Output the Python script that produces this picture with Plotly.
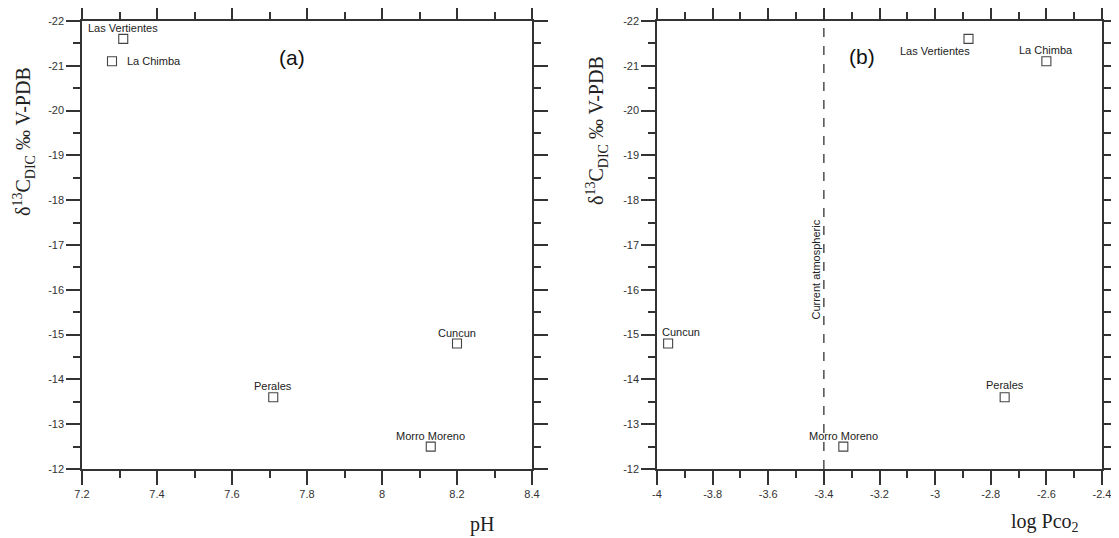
import plotly.graph_objects as go

# ---- data ----
sites = ["Las Vertientes", "La Chimba", "Cuncun", "Perales", "Morro Moreno"]
ph = [7.31, 7.28, 8.20, 7.71, 8.13]
log_pco2 = [-2.88, -2.60, -3.96, -2.75, -3.33]
d13c_dic = [-21.6, -21.1, -14.8, -13.6, -12.5]
atm_log_pco2 = -3.4

ph_ticks = [7.2, 7.4, 7.6, 7.8, 8.0, 8.2, 8.4]
ph_ticktext = ["7.2", "7.4", "7.6", "7.8", "8", "8.2", "8.4"]
pco2_ticks = [-4.0, -3.8, -3.6, -3.4, -3.2, -3.0, -2.8, -2.6, -2.4]
pco2_ticktext = ["-4", "-3.8", "-3.6", "-3.4", "-3.2", "-3", "-2.8", "-2.6", "-2.4"]
d13c_ticks = [-22, -21, -20, -19, -18, -17, -16, -15, -14, -13, -12]
d13c_ticktext = ["-22", "-21", "-20", "-19", "-18", "-17", "-16", "-15", "-14", "-13", "-12"]

# ---- styles ----
OFF = 8                      # page body margin of the browser
W, H = 1119 - OFF, 538 - OFF


def px(x):
    return (x - OFF) / W


def py(y):
    return 1 - (y - OFF) / H


# label placement (anchor, xshift, yshift) per site, for each panel
label_style_a = [("center", 0, 11), ("left", 13, 0), ("center", 0, 11), ("center", 0, 11), ("center", 0, 11)]
label_style_b = [("right", 3, -12), ("center", 0, 11), ("center", 13, 12), ("center", 0, 12), ("center", 0, 11)]
SANS = "Liberation Sans, Arial, sans-serif"
SERIF = "Liberation Serif, Times New Roman, serif"
AX = "#333333"

marker = dict(symbol="square-open", size=9, color="#444444", line=dict(width=1.1, color="#444444"))
labelfont = dict(family=SANS, size=11, color="#222222")

fig = go.Figure()
fig.add_trace(go.Scatter(x=ph, y=d13c_dic, mode="markers", marker=marker, text=sites,
                         xaxis="x", yaxis="y", showlegend=False, cliponaxis=False))
fig.add_trace(go.Scatter(x=log_pco2, y=d13c_dic, mode="markers", marker=marker, text=sites,
                         xaxis="x2", yaxis="y2", showlegend=False, cliponaxis=False))

for xs, styles, xr, yr in [(ph, label_style_a, "x", "y"), (log_pco2, label_style_b, "x2", "y2")]:
    for name, xv, yv, (anc, dx, dy) in zip(sites, xs, d13c_dic, styles):
        fig.add_annotation(x=xv, y=yv, xref=xr, yref=yr, text=name, showarrow=False,
                           xanchor=anc, yanchor="middle", xshift=dx, yshift=dy, font=labelfont)


def axis_style(domain, rng, tv, tt, dtick_minor, anchor):
    return dict(domain=domain, range=rng, tickmode="array", tickvals=tv, ticktext=tt,
                ticks="outside", ticklen=14, tickwidth=1.5, tickcolor=AX,
                minor=dict(ticks="outside", ticklen=7, tickwidth=1.5, tickcolor=AX,
                           dtick=dtick_minor, showgrid=False),
                showline=True, linecolor=AX, linewidth=1.5, mirror="ticks",
                showgrid=False, zeroline=False, anchor=anchor, automargin=False,
                tickfont=dict(family=SANS, size=11, color=AX))


ydom = [py(469), py(21)]
fig.update_layout(
    width=W, height=H,
    margin=dict(l=0, r=0, t=0, b=0, pad=0),
    paper_bgcolor="white", plot_bgcolor="white",
    xaxis=axis_style([px(82), px(532)], [7.2, 8.4], ph_ticks, ph_ticktext, 0.1, "y"),
    yaxis=axis_style(ydom, [-12, -22], d13c_ticks, d13c_ticktext, 0.5, "x"),
    xaxis2=axis_style([px(657), px(1102)], [-4, -2.4], pco2_ticks, pco2_ticktext, 0.1, "y2"),
    yaxis2=axis_style(ydom, [-12, -22], d13c_ticks, d13c_ticktext, 0.5, "x2"),
)

# current atmospheric line
fig.add_shape(type="line", xref="x2", yref="y2 domain", x0=atm_log_pco2, x1=atm_log_pco2,
              y0=0, y1=1, line=dict(color="#222222", width=1.2, dash="dash"))
fig.add_annotation(x=atm_log_pco2, y=-16.45, xref="x2", yref="y2", text="Current atmospheric",
                   textangle=-90, showarrow=False, xshift=-8, xanchor="center", yanchor="middle",
                   font=dict(family=SANS, size=11, color="#222222"))

ytitle = "δ<sup>13</sup>C<sub>DIC</sub> ‰ V-PDB"
ann = [
    dict(x=px(292), y=py(58), text="(a)", font=dict(family=SANS, size=21, color="#111")),
    dict(x=px(862), y=py(57), text="(b)", font=dict(family=SANS, size=21, color="#111")),
    dict(x=px(482), y=py(524), text="pH", font=dict(family=SERIF, size=20, color="#222")),
    dict(x=px(1045), y=py(522), text="log Pco<sub>2</sub>", font=dict(family=SERIF, size=20, color="#222")),
    dict(x=px(24), y=py(142), text=ytitle, textangle=-90, font=dict(family=SERIF, size=20, color="#222")),
    dict(x=px(597), y=py(131), text=ytitle, textangle=-90, font=dict(family=SERIF, size=20, color="#222")),
]
for a in ann:
    fig.add_annotation(xref="paper", yref="paper", showarrow=False,
                       xanchor="center", yanchor="middle", **a)

fig.write_html("out.html")
